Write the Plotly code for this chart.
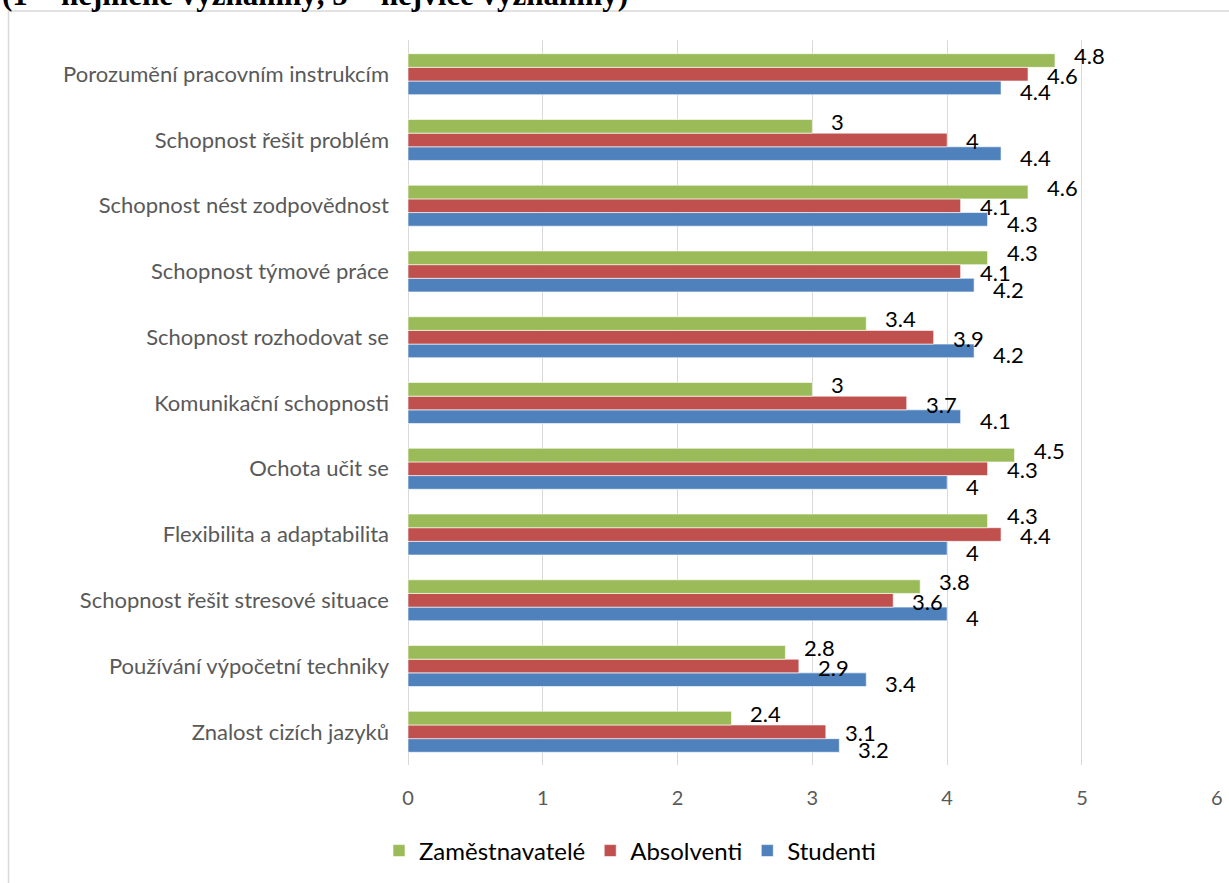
import plotly.graph_objects as go

categories = [
    "Porozumění pracovním instrukcím",
    "Schopnost řešit problém",
    "Schopnost nést zodpovědnost",
    "Schopnost týmové práce",
    "Schopnost rozhodovat se",
    "Komunikační schopnosti",
    "Ochota učit se",
    "Flexibilita a adaptabilita",
    "Schopnost řešit stresové situace",
    "Používání výpočetní techniky",
    "Znalost cizích jazyků",
]
zamestnavatele = [4.8, 3, 4.6, 4.3, 3.4, 3, 4.5, 4.3, 3.8, 2.8, 2.4]
absolventi = [4.6, 4, 4.1, 4.1, 3.9, 3.7, 4.3, 4.4, 3.6, 2.9, 3.1]
studenti = [4.4, 4.4, 4.3, 4.2, 4.2, 4.1, 4, 4, 4, 3.4, 3.2]
x_ticks = [0, 1, 2, 3, 4, 5, 6]
title_text = "(1 = nejméně významný, 5 = nejvíce významný)"

W, H = 1229, 883
ML, MR, MT, MB = 408, 12, 40, 118
PW, PH = W - ML - MR, H - MT - MB

def px_x(px):
    return (px - ML) / PW

def px_y(py):
    return 1 + (MT - py) / PH

series = [
    ("Studenti", studenti, "#4F81BD", -13.7, -4),
    ("Absolventi", absolventi, "#C0504D", 0.0, -1),
    ("Zaměstnavatelé", zamestnavatele, "#9BBB59", 13.7, 5),
]

fig = go.Figure()
annotations = []
for name, vals, color, off, dy in series:
    fig.add_trace(go.Bar(
        y=categories, x=vals, name=name, orientation="h",
        marker=dict(color=color, line=dict(color="white", width=0.6)),
        hoverinfo="x+y+name",
    ))
    for c, v in zip(categories, vals):
        annotations.append(dict(
            x=v, y=c, xref="x", yref="y", text=f"{v:g}", showarrow=False,
            xanchor="left", yanchor="middle", xshift=17, yshift=off + dy,
            font=dict(family="Lato, sans-serif", size=22, color="#000000"),
        ))

annotations.append(dict(
    x=px_x(0), y=px_y(-6), xref="paper", yref="paper", text="<b>" + title_text + "</b>",
    showarrow=False, xanchor="left", yanchor="middle",
    font=dict(family="Liberation Serif, serif", size=31, color="#000000"),
))

fig.update_layout(
    width=W, height=H,
    margin=dict(l=ML, r=MR, t=MT, b=MB, autoexpand=False),
    paper_bgcolor="white", plot_bgcolor="white",
    barmode="group", bargap=0.377, bargroupgap=0,
    font=dict(family="Lato, sans-serif", size=22, color="#595959"),
    showlegend=True,
    legend=dict(
        orientation="h", x=px_x(630), xanchor="center", y=px_y(851), yanchor="middle",
        traceorder="reversed", font=dict(size=24, color="#000000"),
        itemwidth=30, bgcolor="rgba(0,0,0,0)",
    ),
    xaxis=dict(
        range=[0, 6.002], tickvals=x_ticks, ticktext=[str(t) for t in x_ticks],
        showgrid=True, gridcolor="#D9D9D9", gridwidth=1.3,
        zeroline=True, zerolinecolor="#D9D9D9", zerolinewidth=1.3,
        showline=False, ticks="", ticklabelstandoff=19, automargin=False,
        tickfont=dict(size=20, color="#595959"), fixedrange=True,
    ),
    yaxis=dict(
        type="category", categoryorder="array", categoryarray=categories[::-1],
        showgrid=False, showline=False, ticks="", ticklabelstandoff=18, automargin=False,
        tickfont=dict(size=22, color="#595959"), fixedrange=True,
    ),
    annotations=annotations,
    shapes=[dict(
        type="rect", xref="paper", yref="paper",
        x0=px_x(8.5), x1=px_x(1260), y0=px_y(920), y1=px_y(11),
        line=dict(color="#D9D9D9", width=1.5), fillcolor="rgba(0,0,0,0)", layer="below",
    )],
)

fig.write_html("out.html")
